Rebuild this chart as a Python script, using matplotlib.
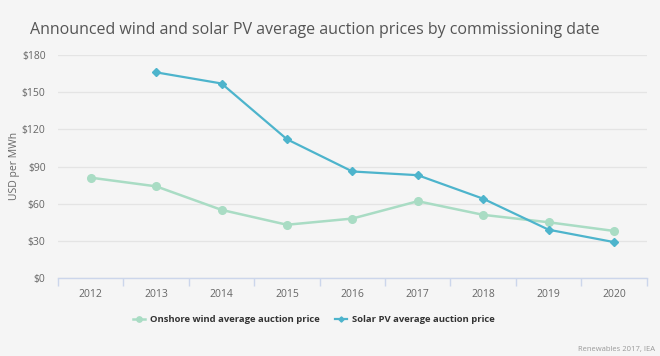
import matplotlib

matplotlib.use("Agg")

import matplotlib.pyplot as plt
import numpy as np

years = ["2012", "2013", "2014", "2015", "2016", "2017", "2018", "2019", "2020"]
wind_prices = [81, 74, 55, 43, 48, 62, 51, 45, 38]
solar_years = ["2013", "2014", "2015", "2016", "2017", "2018", "2019", "2020"]
solar_prices = [166, 157, 112, 86, 83, 64, 39, 29]
y_ticks = [0, 30, 60, 90, 120, 150, 180]

bg = "#f5f5f5"
wind_color = "#a9dcc4"
solar_color = "#4db4cc"
text_gray = "#666666"

plt.rcParams["font.family"] = ["Open Sans", "DejaVu Sans"]

fig = plt.figure(figsize=(6.6, 3.56), dpi=100, facecolor=bg)
ax = fig.add_axes([0.0879, 0.219, 0.892, 0.6265], facecolor=bg)

x_wind = np.arange(len(years))
x_solar = [years.index(y) for y in solar_years]

ax.plot(x_wind, wind_prices, color=wind_color, linewidth=1.8, marker="o",
        markersize=5.5, label="Onshore wind average auction price",
        clip_on=False, zorder=3)
ax.plot(x_solar, solar_prices, color=solar_color, linewidth=1.6, marker="D",
        markersize=3.8, label="Solar PV average auction price",
        clip_on=False, zorder=4)

ax.set_xlim(-0.5, len(years) - 0.5)
ax.set_ylim(0, 180)
ax.set_xticks(x_wind)
ax.set_xticklabels(years)
ax.set_xticks(np.arange(-0.5, len(years)), minor=True)
ax.set_yticks(y_ticks)
ax.set_yticklabels([f"${v}" for v in y_ticks])

ax.grid(axis="y", color="#e4e4e4", linewidth=0.9)
ax.set_axisbelow(True)
for side in ("top", "right", "left"):
    ax.spines[side].set_visible(False)
ax.spines["bottom"].set_color("#ccd6eb")
ax.spines["bottom"].set_linewidth(1.0)

ax.tick_params(axis="x", which="major", length=0, labelsize=7.5,
               labelcolor=text_gray, pad=8)
ax.tick_params(axis="x", which="minor", length=6, color="#ccd6eb", width=1.0)
ax.tick_params(axis="y", length=0, labelsize=7.5, labelcolor=text_gray, pad=9)

fig.text(14 / 660, 1 - 166 / 356, "USD per MWh", fontsize=7.5,
         color=text_gray, rotation=90, ha="center", va="center")

fig.text(30 / 660, 1 - 30 / 356,
         "Announced wind and solar PV average auction prices by commissioning date",
         fontsize=11.5, color="#555555", va="center", ha="left")

leg = fig.legend(loc="center", bbox_to_anchor=(0.475, 1 - 320 / 356), ncol=2,
                 frameon=False, handlelength=1.3, columnspacing=1.6,
                 handletextpad=0.5, markerscale=0.7,
                 prop={"weight": "bold", "size": 6.8})
for t in leg.get_texts():
    t.set_color("#333333")

fig.text(655 / 660, 1 - 349 / 356, "Renewables 2017, IEA", fontsize=5.5,
         color="#999999", ha="right", va="center")

fig.savefig("out.png", dpi=100, facecolor=bg)
